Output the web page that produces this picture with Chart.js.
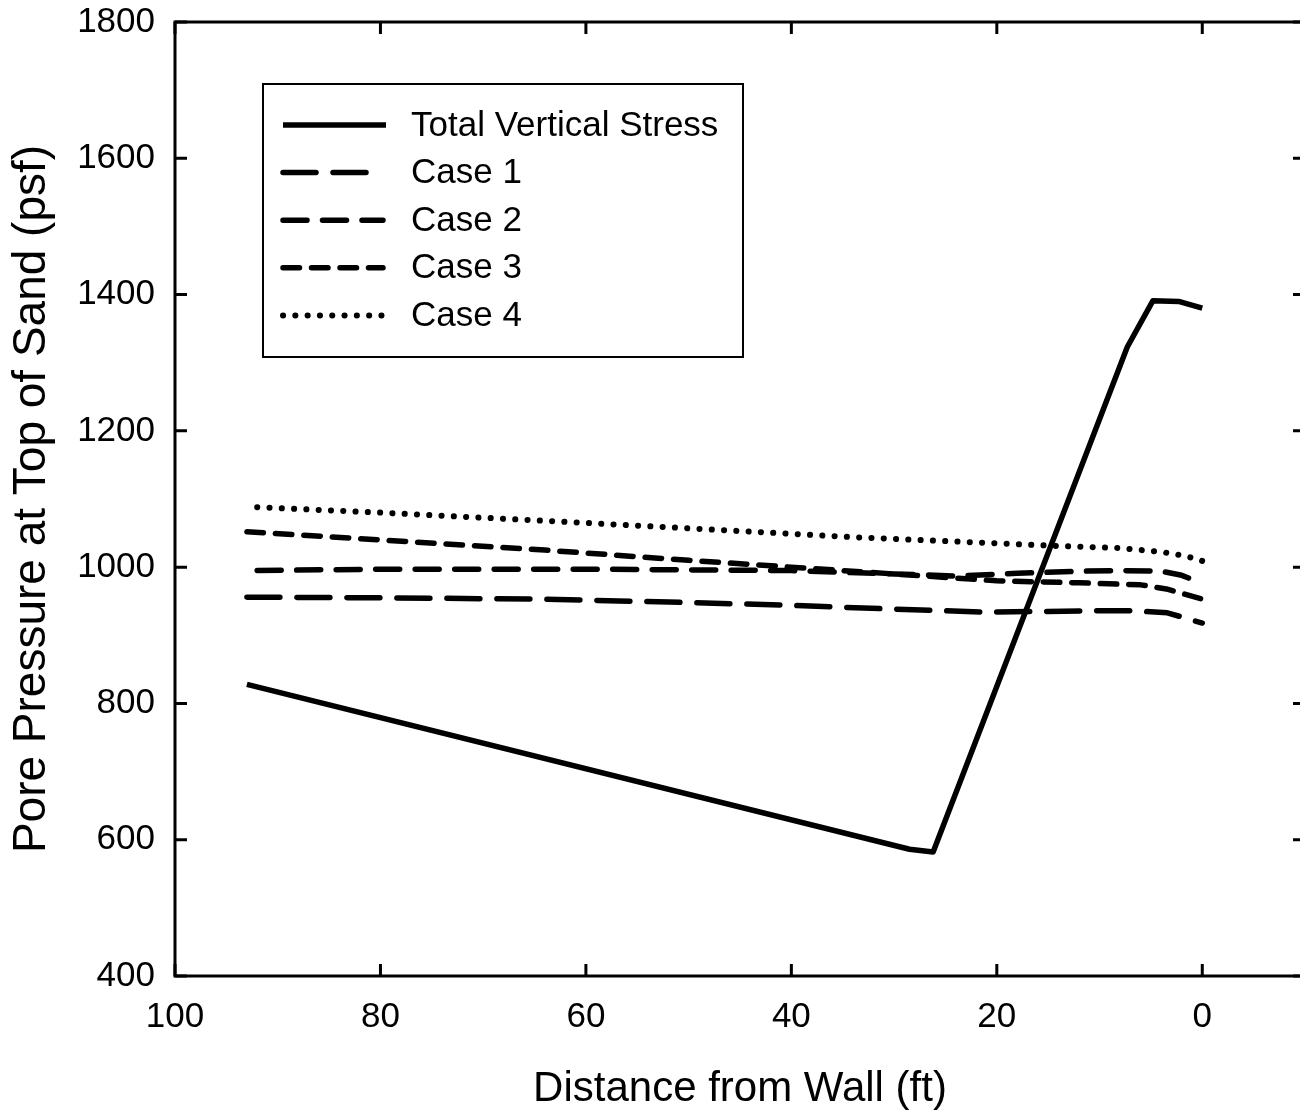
<!DOCTYPE html>
<html>
<head>
<meta charset="utf-8">
<script src="https://cdn.jsdelivr.net/npm/chart.js@4.4.0/dist/chart.umd.min.js"></script>
<style>
  html, body { margin: 0; padding: 0; background: #fff; overflow: hidden; }
  canvas { display: block; }
</style>
</head>
<body>
<canvas id="chart" width="1310" height="1115" style="width:1310px;height:1115px"></canvas>
<script>
// values: distance from wall (ft) -> pressure (psf)
const tvsX   = [93, 28.5, 26.2, 7.3, 4.8, 2.3, 0];
const tvsY   = [828, 586, 582, 1323, 1391, 1390, 1380];

const case1X = [93, 80, 64, 50, 40, 33, 21, 10, 6.7, 3.4, 0];
const case1Y = [956, 955, 953, 948, 944, 940, 934, 936, 936, 933, 918];

const case2X = [92, 80, 60, 40, 30, 24, 18, 12, 8, 4, 2, 0];
const case2Y = [995, 997, 997, 995, 990, 987, 991, 994, 995, 994, 988, 976];

const case3X = [93, 80, 64, 50, 40, 30, 20, 12, 6, 3.5, 0];
const case3Y = [1052, 1040, 1025, 1010, 1000, 990, 980, 977, 974, 968, 953];

const case4X = [92, 80, 64, 50, 34, 20, 14, 8, 3.8, 1.5, 0];
const case4Y = [1088, 1080, 1068, 1057, 1044, 1035, 1031, 1028, 1022, 1016, 1009];

const seriesNames = ['Total Vertical Stress', 'Case 1', 'Case 2', 'Case 3', 'Case 4'];
const xTicks = [100, 80, 60, 40, 20, 0];
const yTicks = [400, 600, 800, 1000, 1200, 1400, 1600, 1800];

const FONT = '"Liberation Sans", Arial, Helvetica, sans-serif';
Chart.defaults.font.family = FONT;
Chart.defaults.color = '#000';

function pts(xs, ys){ return xs.map((x, i) => ({ x, y: ys[i] })); }

function line(label, data, dash, width){
  return {
    label, data,
    borderColor: '#000',
    borderWidth: width,
    borderDash: dash,
    borderCapStyle: dash.length ? 'round' : 'butt',
    borderJoinStyle: 'round',
    pointRadius: 0,
    tension: 0,
    fill: false,
  };
}

// box, inward ticks on all four sides
const frameTicks = {
  id: 'frameTicks',
  afterDatasetsDraw(chart){
    const { ctx, chartArea: a, scales } = chart;
    ctx.save();
    ctx.strokeStyle = '#000';
    ctx.lineWidth = 3;
    ctx.lineCap = 'butt';
    ctx.strokeRect(a.left, a.top, a.right - a.left, a.bottom - a.top);
    const len = 12;
    ctx.beginPath();
    scales.x.ticks.forEach(t => {
      const px = scales.x.getPixelForValue(t.value);
      ctx.moveTo(px, a.bottom); ctx.lineTo(px, a.bottom - len);
      ctx.moveTo(px, a.top);    ctx.lineTo(px, a.top + len);
    });
    scales.y.ticks.forEach(t => {
      const py = scales.y.getPixelForValue(t.value);
      ctx.moveTo(a.left, py);  ctx.lineTo(a.left + len, py);
      ctx.moveTo(a.right, py); ctx.lineTo(a.right - len, py);
    });
    ctx.stroke();
    ctx.restore();
  }
};

// boxed legend in the upper left of the plot, samples use each dataset's stroke
const boxLegend = {
  id: 'boxLegend',
  afterDraw(chart){
    const { ctx } = chart;
    const bx = 263, by = 84, bw = 480, bh = 273;
    ctx.save();
    ctx.fillStyle = '#fff';
    ctx.fillRect(bx, by, bw, bh);
    ctx.strokeStyle = '#000';
    ctx.lineWidth = 2;
    ctx.strokeRect(bx, by, bw, bh);
    ctx.font = '35px ' + FONT;
    ctx.textBaseline = 'middle';
    ctx.fillStyle = '#000';
    chart.data.datasets.forEach((ds, i) => {
      const y = 125 + i * 47.6;
      ctx.save();
      ctx.lineWidth = ds.borderWidth;
      ctx.lineCap = ds.borderDash.length ? 'round' : 'butt';
      ctx.setLineDash(ds.borderDash);
      ctx.beginPath();
      ctx.moveTo(283, y);
      ctx.lineTo(ds.borderDash.length ? 383 : 386, y);
      ctx.stroke();
      ctx.restore();
      ctx.fillText(ds.label, 411, y + 1);
    });
    ctx.restore();
  }
};

new Chart(document.getElementById('chart'), {
  type: 'line',
  data: {
    datasets: [
      line(seriesNames[0], pts(tvsX, tvsY), [], 5.5),
      line(seriesNames[1], pts(case1X, case1Y), [33, 17], 5.5),
      line(seriesNames[2], pts(case2X, case2Y), [24, 15.5], 5.5),
      line(seriesNames[3], pts(case3X, case3Y), [16.5, 12], 5.5),
      line(seriesNames[4], pts(case4X, case4Y), [0.1, 12.2], 6),
    ],
  },
  options: {
    responsive: false,
    animation: false,
    layout: { padding: { left: 0, top: 22, right: 5, bottom: 0 } },
    plugins: { legend: { display: false }, tooltip: { enabled: false } },
    scales: {
      x: {
        type: 'linear',
        reverse: true,
        min: -10, max: 100,
        afterBuildTicks: s => { s.ticks = xTicks.map(v => ({ value: v })); },
        afterFit: s => { s.height = 139; s.paddingLeft = 0; s.paddingRight = 0; },
        grid: { display: false, drawTicks: false },
        border: { display: false },
        ticks: { font: { size: 35 }, padding: 20, maxRotation: 0, color: '#000', callback: v => String(v) },
        title: { display: true, text: 'Distance from Wall (ft)', font: { size: 42 }, padding: { top: 0, bottom: 0 }, color: '#000' },
      },
      y: {
        type: 'linear',
        min: 400, max: 1800,
        afterBuildTicks: s => { s.ticks = yTicks.map(v => ({ value: v })); },
        afterFit: s => { s.width = 175; s.paddingTop = 0; s.paddingBottom = 0; },
        grid: { display: false, drawTicks: false },
        border: { display: false },
        ticks: { font: { size: 35 }, padding: 20, color: '#000', callback: v => String(v) },
        title: { display: true, text: 'Pore Pressure at Top of Sand (psf)', font: { size: 46 }, padding: { top: 5, bottom: 0 }, color: '#000' },
      },
    },
  },
  plugins: [frameTicks, boxLegend],
});
</script>
</body>
</html>
